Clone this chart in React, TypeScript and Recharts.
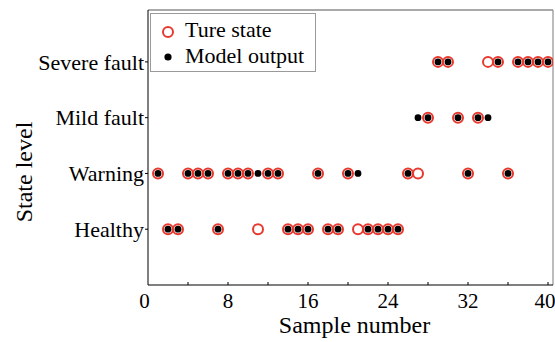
import React from 'react';
import { ScatterChart, Scatter, XAxis, YAxis, ReferenceLine, Legend, Label } from 'recharts';

const samples = [1, 2, 3, 4, 5, 6, 7, 8, 9, 10, 11, 12, 13, 14, 15, 16, 17, 18, 19, 20, 21, 22, 23, 24, 25, 26, 27, 28, 29, 30, 31, 32, 33, 34, 35, 36, 37, 38, 39, 40];
// 1 = Healthy, 2 = Warning, 3 = Mild fault, 4 = Severe fault
const trueState = [2, 1, 1, 2, 2, 2, 1, 2, 2, 2, 1, 2, 2, 1, 1, 1, 2, 1, 1, 2, 1, 1, 1, 1, 1, 2, 2, 3, 4, 4, 3, 2, 3, 4, 4, 2, 4, 4, 4, 4];
const modelOutput = [2, 1, 1, 2, 2, 2, 1, 2, 2, 2, 2, 2, 2, 1, 1, 1, 2, 1, 1, 2, 2, 1, 1, 1, 1, 2, 3, 3, 4, 4, 3, 2, 3, 3, 4, 2, 4, 4, 4, 4];
const stateLabels = ['Healthy', 'Warning', 'Mild fault', 'Severe fault'];
const yTicks = [1, 2, 3, 4];
const xTicks = [0, 4, 8, 12, 16, 20, 24, 28, 32, 36, 40];
const xLabeled = [0, 8, 16, 24, 32, 40];
const seriesNames = ['Ture state', 'Model output'];

const X_MAX = 40.5;
const Y_MAX = 4.93;
const RED = '#e8392f';
const FONT = '"Liberation Serif", "Times New Roman", Times, serif';

const trueData = samples.map((s, i) => ({ x: s, y: trueState[i] }));
const modelData = samples.map((s, i) => ({ x: s, y: modelOutput[i] }));

const XTick = (props: any) => {
  const { x, y, payload } = props;
  const v = payload.value;
  const shift = v === 0 ? -3.5 : v === 40 ? -3 : 0;
  return (
    <g>
      {v > 0 ? <line x1={x} x2={x} y1={y} y2={y - 3} stroke="#000" strokeWidth={1} /> : null}
      {xLabeled.includes(v) ? (
        <text x={x + shift} y={y + 23} textAnchor="middle" fontSize={21} fontFamily={FONT} style={{ fontFamily: FONT }} fill="#000">
          {v}
        </text>
      ) : null}
    </g>
  );
};

const TrueShape = (props: any) => (
  <circle cx={props.cx} cy={props.cy} r={5} fill="none" stroke={RED} strokeWidth={2} />
);
const ModelShape = (props: any) => <circle cx={props.cx} cy={props.cy} r={3.4} fill="#000" />;

const renderLegend = () => (
  <svg width={166} height={59} style={{ display: 'block' }}>
    <rect x={0.5} y={0.5} width={165} height={58} fill="#fff" stroke="#9a9a9a" strokeWidth={1} />
    <circle cx={18} cy={19} r={5} fill="none" stroke={RED} strokeWidth={2} />
    <text x={35} y={24} fontSize={22} style={{ fontFamily: FONT }} fill="#000">{seriesNames[0]}</text>
    <circle cx={18} cy={44} r={3.6} fill="#000" />
    <text x={35} y={50} fontSize={22} style={{ fontFamily: FONT }} fill="#000">{seriesNames[1]}</text>
  </svg>
);

const YTitle = (props: any) => {
  const vb = props.viewBox || { x: 0, y: 0, width: 0, height: 0 };
  const cx = vb.x + 31.5;
  const cy = vb.y + vb.height / 2 + 24.5;
  return (
    <text x={cx} y={cy} transform={`rotate(-90, ${cx}, ${cy})`} textAnchor="middle" fontSize={24} style={{ fontFamily: FONT }} fill="#000">
      State level
    </text>
  );
};

export default function App() {
  return (
    <div style={{ position: 'absolute', left: 0, top: 0, width: 555, height: 342, background: '#fff', fontFamily: FONT }}>
      <ScatterChart width={555} height={342} margin={{ top: 10, right: 2, bottom: 0, left: 0 }} style={{ fontFamily: FONT }}>
        <XAxis
          type="number"
          dataKey="x"
          domain={[0, X_MAX]}
          ticks={xTicks}
          interval={0}
          tickLine={false}
          tickSize={0}
          tickMargin={0}
          tick={<XTick />}
          axisLine={{ stroke: '#000', strokeWidth: 1 }}
          height={57}
          allowDataOverflow
        >
          <Label value="Sample number" position="insideBottom" offset={9} dx={4} fontSize={24} fontFamily={FONT} fill="#000" style={{ fontSize: 24, fontFamily: FONT, fill: '#000' }} />
        </XAxis>
        <YAxis
          type="number"
          dataKey="y"
          domain={[0, Y_MAX]}
          ticks={yTicks}
          interval={0}
          tickFormatter={(v: number) => stateLabels[v - 1]}
          tickSize={3}
          tickMargin={1}
          tick={{ fontSize: 22, fontFamily: FONT, fill: '#000', style: { fontFamily: FONT } }}
          tickLine={{ stroke: '#000' }}
          axisLine={{ stroke: '#000', strokeWidth: 1 }}
          width={148}
          allowDataOverflow
          label={{ content: YTitle }}
        />
        <ReferenceLine y={Y_MAX} stroke="#555" strokeWidth={1} ifOverflow="visible" />
        <ReferenceLine x={X_MAX} stroke="#7a7a7a" strokeWidth={1} ifOverflow="visible" />
        <Scatter name={seriesNames[0]} data={trueData} shape={TrueShape} isAnimationActive={false} />
        <Scatter name={seriesNames[1]} data={modelData} shape={ModelShape} isAnimationActive={false} />
        <Legend
          layout="vertical"
          align="center"
          verticalAlign="middle"
          content={renderLegend}
          wrapperStyle={{ position: 'absolute', left: 150, top: 13, width: 166, height: 59 }}
        />
      </ScatterChart>
    </div>
  );
}
